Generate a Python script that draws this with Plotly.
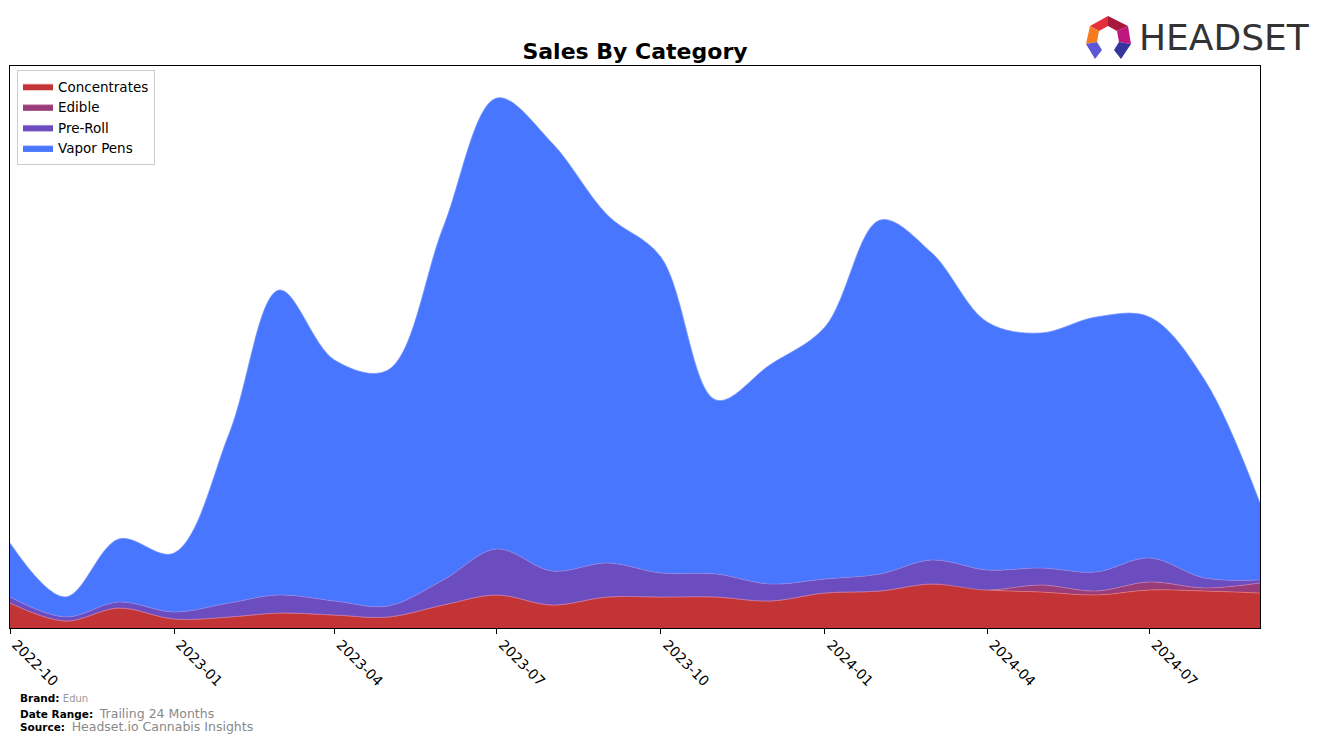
import plotly.graph_objects as go

months = ["2022-10-01", "2022-11-01", "2022-12-01", "2023-01-01", "2023-02-01", "2023-03-01",
          "2023-04-01", "2023-05-01", "2023-06-01", "2023-07-01", "2023-08-01", "2023-09-01",
          "2023-10-01", "2023-11-01", "2023-12-01", "2024-01-01", "2024-02-01", "2024-03-01",
          "2024-04-01", "2024-05-01", "2024-06-01", "2024-07-01", "2024-08-01", "2024-09-01"]

concentrates = [25, 7, 20, 9, 11, 15, 13, 11, 23, 33, 23, 31, 31, 31, 27, 35, 37, 44, 38, 36, 33, 38, 37, 35]
edible = [0, 0, 0, 0, 0, 0, 0, 0, 0, 0, 0, 0, 0, 0, 0, 0, 0, 0, 0, 7, 4, 8, 3, 10]
pre_roll = [6, 4, 6, 7, 14, 18, 14, 11, 25, 46, 34, 34, 24, 23, 17, 14, 17, 24, 20, 17, 19, 24, 10, 3]
vapor_pens = [54, 20, 63, 59, 170, 305, 241, 236, 353, 451, 428, 348, 316, 174, 219, 252, 354, 307,
              248, 235, 255, 241, 198, 77]

tick_vals = ["2022-10-01", "2023-01-01", "2023-04-01", "2023-07-01", "2023-10-01",
             "2024-01-01", "2024-04-01", "2024-07-01"]

series = [
    ("Concentrates", concentrates, "#C23435", "rgba(230,120,120,0.9)"),
    ("Edible", edible, "#993D7A", "rgba(200,120,170,0.9)"),
    ("Pre-Roll", pre_roll, "#6B4DBF", "rgba(150,130,220,0.9)"),
    ("Vapor Pens", vapor_pens, "#4876FF", "rgba(120,150,255,0.9)"),
]

fig = go.Figure()
for name, vals, col, lcol in series:
    fig.add_trace(go.Scatter(
        x=months, y=vals, name=name, mode="lines", stackgroup="one",
        line=dict(shape="spline", smoothing=1.0, width=0.8, color=lcol),
        fillcolor=col,
    ))

W, H = 1324, 743
L, R, T, B = 10, 1260, 66, 628


def px(x):
    return (x - L) / (R - L)


def py(y):
    return (B - y) / (B - T)


def poly(points, color):
    d = "M " + " L ".join(f"{px(a):.5f},{py(b):.5f}" for a, b in points) + " Z"
    return dict(type="path", xref="paper", yref="paper", path=d,
                fillcolor=color, line=dict(width=0), layer="above")


shapes = [
    poly([(1090, 26), (1108, 16), (1108, 26), (1099, 31)], "#E5303A"),
    poly([(1108, 16), (1128, 26), (1117, 31), (1108, 26)], "#A8173C"),
    poly([(1090, 26), (1099, 31), (1097, 42), (1086, 44)], "#F47B20"),
    poly([(1128, 26), (1131, 44), (1119, 42), (1117, 31)], "#C0177F"),
    poly([(1086, 44), (1097, 42), (1102, 50), (1095, 59)], "#5B57D6"),
    poly([(1131, 44), (1119, 42), (1114, 50), (1121, 59)], "#35359E"),
]

annotations = [
    dict(text="HEADSET", xref="paper", yref="paper", x=px(1137), y=py(38),
         xanchor="left", yanchor="middle", showarrow=False,
         font=dict(family="DejaVu Sans", size=36, color="#333333")),
    dict(text="<b>Brand:</b> <span style='color:#999999;font-size:10px'>Edun</span>",
         xref="paper", yref="paper", x=px(18), y=py(698), xanchor="left", yanchor="middle",
         showarrow=False, font=dict(family="DejaVu Sans", size=10.5, color="black")),
    dict(text="<b>Date Range:</b>  <span style='color:#888888;font-size:12.5px'>Trailing 24 Months</span>",
         xref="paper", yref="paper", x=px(18), y=py(713), xanchor="left", yanchor="middle",
         showarrow=False, font=dict(family="DejaVu Sans", size=10.5, color="black")),
    dict(text="<b>Source:</b>  <span style='color:#888888;font-size:12.5px'>Headset.io Cannabis Insights</span>",
         xref="paper", yref="paper", x=px(18), y=py(726), xanchor="left", yanchor="middle",
         showarrow=False, font=dict(family="DejaVu Sans", size=10.5, color="black")),
]

fig.update_layout(
    width=W, height=H,
    margin=dict(l=L, r=W - R, t=T, b=H - B, autoexpand=False),
    paper_bgcolor="white", plot_bgcolor="white",
    title=dict(text="<b>Sales By Category</b>", x=0.5, xref="paper", y=1 - 51 / H,
               yref="container", xanchor="center", yanchor="middle",
               font=dict(family="DejaVu Sans", size=22, color="black")),
    font=dict(family="DejaVu Sans", size=14, color="black"),
    showlegend=True,
    legend=dict(x=px(17), y=py(70), xanchor="left", yanchor="top", itemwidth=30,
                bgcolor="rgba(255,255,255,0.8)", bordercolor="#CCCCCC", borderwidth=1,
                font=dict(family="DejaVu Sans", size=13.5, color="black"), traceorder="normal"),
    xaxis=dict(type="date", range=["2022-10-01", "2024-09-01"], tickvals=tick_vals,
               tickformat="%Y-%m", tickangle=45, ticks="outside", ticklen=5, tickcolor="black",
               ticklabelshift=6, ticklabelstandoff=-3,
               showline=True, linecolor="black", linewidth=1, mirror=True, showgrid=False,
               zeroline=False, automargin=False,
               tickfont=dict(family="DejaVu Sans", size=14, color="black")),
    yaxis=dict(range=[0, B - T], showticklabels=False, ticks="", showline=True,
               linecolor="black", linewidth=1, mirror=True, showgrid=False, zeroline=False,
               automargin=False),
    shapes=shapes,
    annotations=annotations,
)

fig.write_html("out.html")
